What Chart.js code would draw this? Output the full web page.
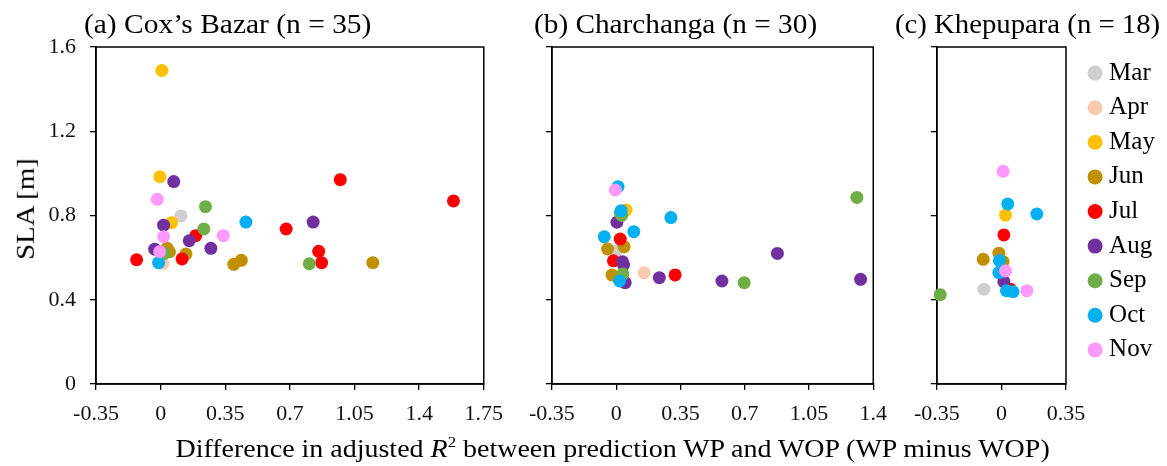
<!DOCTYPE html>
<html>
<head>
<meta charset="utf-8">
<script src="https://cdn.jsdelivr.net/npm/chart.js@4.4.1/dist/chart.umd.min.js"></script>
<style>
  body { margin: 0; background: #fff; }
  #wrap { position: relative; width: 1167px; height: 466px; overflow: hidden; background: #fff;
          font-family: 'Liberation Serif', 'Times New Roman', serif; color: #000; }
  canvas { position: absolute; top: 0; }
  .txt { position: absolute; white-space: nowrap; line-height: 1; transform-origin: center center; }
  .txt sup { font-size: 0.6em; line-height: 0; vertical-align: 0.65em; }
</style>
</head>
<body>
<div id="wrap">
  <canvas id="c1" width="514" height="466" style="left:0px"></canvas>
  <canvas id="c2" width="380" height="466" style="left:518px"></canvas>
  <canvas id="c3" width="264" height="466" style="left:903px"></canvas>

  <div class="txt" id="t1" style="font-size:27px">(a) Cox’s Bazar (n = 35)</div>
  <div class="txt" id="t2" style="font-size:27px">(b) Charchanga (n = 30)</div>
  <div class="txt" id="t3" style="font-size:27px">(c) Khepupara (n = 18)</div>
  <div class="txt" id="ylab" style="font-size:26px">SLA [m]</div>
  <div class="txt" id="xlab" style="font-size:25px">Difference in adjusted <i>R</i><sup>2</sup> between prediction WP and WOP (WP minus WOP)</div>
</div>

<script>
// meses y colores (como en la figura original de Excel)
const months = ['Mar', 'Apr', 'May', 'Jun', 'Jul', 'Aug', 'Sep', 'Oct', 'Nov'];
const monthColors = ['#D0CECE', '#F8CBAD', '#FFC000', '#BF9000', '#FF0000', '#7030A0', '#70AD47', '#00B0F0', '#FF99FF'];

// ticks
const slaTicks = [0, 0.4, 0.8, 1.2, 1.6];
const coxTicks = [-0.35, 0, 0.35, 0.7, 1.05, 1.4, 1.75];
const charTicks = [-0.35, 0, 0.35, 0.7, 1.05, 1.4];
const khepTicks = [-0.35, 0, 0.35];

// (a) Cox's Bazar
const coxMonth = ['May','May','Aug','Jul','Jul','Oct','Aug','Jul','Nov','Aug','Jul','Jul','Jun','Jun','Sep','Jul','Jun',
                  'Nov','Sep','Mar','May','Aug','Nov','Sep','Jul','Aug','Aug','Nov','Jun','Jun','Jul','Oct','Apr','Jun','Sep'];
const coxDiff  = [0.007,-0.004,0.071,0.973,1.586,0.462,0.826,0.680,0.339,0.272,0.856,-0.130,0.437,0.396,0.805,0.872,1.149,
                  -0.018,0.243,0.110,0.059,0.016,0.016,0.234,0.190,0.155,-0.032,-0.005,0.048,0.137,0.116,-0.011,0.012,0.035,0.020];
const coxSla   = [1.489,0.984,0.961,0.970,0.869,0.769,0.769,0.736,0.704,0.644,0.630,0.590,0.587,0.568,0.571,0.576,0.576,
                  0.877,0.842,0.798,0.766,0.754,0.699,0.736,0.704,0.680,0.640,0.628,0.628,0.617,0.594,0.576,0.573,0.645,0.620];

// (b) Charchanga
const charMonth = ['Oct','Nov','May','Sep','Oct','Aug','Oct','Jul','Oct','Jun','Mar','Jun','Jul','Aug','Jun','Sep','Aug','Oct',
                   'Apr','Oct','Sep','Aug','Aug','Jul','Aug','Sep','Aug','Jun','Sep','Aug'];
const charDiff  = [0.010,-0.005,0.054,0.022,0.027,0.004,-0.065,0.022,0.096,-0.047,0.000,0.043,-0.015,0.040,-0.023,0.036,0.049,0.018,
                   0.152,0.298,1.311,0.878,0.235,0.321,0.576,0.697,1.331,0.030,0.030,0.035];
const charSla   = [0.937,0.921,0.826,0.813,0.823,0.768,0.699,0.688,0.723,0.641,0.632,0.652,0.585,0.565,0.518,0.522,0.481,0.489,
                   0.528,0.790,0.886,0.620,0.505,0.518,0.489,0.481,0.497,0.515,0.800,0.580];

// (c) Khepupara
const khepMonth = ['Nov','Oct','May','Oct','Jul','Jun','Jun','Jun','Oct','Oct','Nov','Aug','Mar','Oct','Oct','Jul','Nov','Sep'];
const khepDiff  = [0.009,0.034,0.022,0.192,0.013,-0.099,-0.014,0.009,-0.011,-0.014,0.022,0.013,-0.095,0.027,0.063,0.048,0.138,-0.332];
const khepSla   = [1.010,0.855,0.802,0.807,0.708,0.592,0.621,0.581,0.586,0.529,0.537,0.486,0.450,0.443,0.438,0.450,0.443,0.424];

const serif = "'Liberation Serif', 'Times New Roman', serif";

// agrupa los puntos por mes, un dataset por mes
function buildSets(monthArr, diffArr, slaArr) {
  return months.map((m, i) => ({
    label: m,
    data: monthArr.map((mm, k) => mm === m ? { x: diffArr[k], y: slaArr[k] } : null).filter(p => p),
    backgroundColor: monthColors[i],
    borderColor: monthColors[i],
    borderWidth: 0,
    pointRadius: 6.5,
    pointHoverRadius: 6.5,
    order: months.length - i,   // meses posteriores encima
    clip: false
  }));
}

// marco negro alrededor del area
const boxFrame = {
  id: 'boxFrame',
  beforeDatasetsDraw(chart) {
    const { ctx, chartArea: a } = chart;
    ctx.save();
    ctx.strokeStyle = '#000';
    ctx.lineWidth = 1.5;
    ctx.strokeRect(a.left, a.top, a.right - a.left, a.bottom - a.top);
    ctx.restore();
  }
};

// leyenda con ancho fijo y desplazada a la derecha
const legendWidth = 101, legendDx = 18, legendDy = 4;
const legendFix = {
  id: 'legendFix',
  beforeLayout(chart) {
    const l = chart.legend;
    if (l && !l._patched) {
      const orig = l.fit.bind(l);
      l.fit = function () { orig(); this.width = legendWidth; };
      l._patched = true;
    }
  },
  afterLayout(chart) {
    const l = chart.legend;
    if (!l) return;
    l.left += legendDx; l.right += legendDx;
    l.top += legendDy; l.bottom += legendDy;
  }
};

function makeChart(id, sets, xTicks, cfg) {
  return new Chart(document.getElementById(id), {
    type: 'scatter',
    data: { datasets: sets },
    options: {
      responsive: false,
      animation: false,
      events: [],
      layout: { padding: cfg.padding },
      plugins: {
        legend: cfg.legend || { display: false },
        tooltip: { enabled: false }
      },
      scales: {
        x: {
          type: 'linear',
          min: xTicks[0],
          max: xTicks[xTicks.length - 1],
          afterBuildTicks: s => { s.ticks = xTicks.map(v => ({ value: v })); },
          afterFit: s => { s.height = 40; },
          ticks: {
            autoSkip: false, maxRotation: 0, padding: 11,
            color: '#111', font: { family: serif, size: 22 },
            callback: v => String(v)
          },
          grid: { drawOnChartArea: false, drawTicks: true, tickLength: 6, color: '#000', lineWidth: 1.3 },
          border: { display: true, color: '#000', width: 1.5 }
        },
        y: {
          type: 'linear',
          min: 0,
          max: 1.6,
          afterBuildTicks: s => { s.ticks = slaTicks.map(v => ({ value: v })); },
          afterFit: s => { s.width = cfg.yWidth; },
          ticks: {
            display: cfg.yLabels, padding: 14,
            color: '#111', font: { family: serif, size: 22 },
            callback: v => String(v)
          },
          grid: { drawOnChartArea: false, drawTicks: true, tickLength: 6, color: '#000', lineWidth: 1.3 },
          border: { display: true, color: '#000', width: 1.5 }
        }
      }
    },
    plugins: [boxFrame, legendFix]
  });
}

makeChart('c1', buildSets(coxMonth, coxDiff, coxSla), coxTicks,
  { padding: { left: 0, right: 24, top: 47, bottom: 42 }, yWidth: 96, yLabels: true });

makeChart('c2', buildSets(charMonth, charDiff, charSla), charTicks,
  { padding: { left: 9, right: 24, top: 47, bottom: 42 }, yWidth: 20, yLabels: false });

makeChart('c3', buildSets(khepMonth, khepDiff, khepSla), khepTicks, {
  padding: { left: 9, right: 0, top: 47, bottom: 42 }, yWidth: 20, yLabels: false,
  legend: {
    display: true,
    position: 'right',
    align: 'start',
    labels: {
      usePointStyle: true, boxWidth: 3, boxHeight: 10.6, padding: 9.6,
      color: '#000', font: { family: serif, size: 25 },
      sort: (a, b) => a.datasetIndex - b.datasetIndex
    }
  }
});

// textos html: centrado y ancho como en la figura
function placeText(id, cx, cy, w, rotate) {
  const el = document.getElementById(id);
  const ow = el.offsetWidth, oh = el.offsetHeight;
  el.style.left = (cx - ow / 2) + 'px';
  el.style.top = (cy - oh / 2) + 'px';
  el.style.transform = (rotate ? 'rotate(-90deg) ' : '') + 'scaleX(' + (w / ow) + ')';
}
placeText('t1', 227, 24, 287);
placeText('t2', 675, 24, 283);
placeText('t3', 1027, 24, 265);
placeText('ylab', 26, 209, 102, true);
placeText('xlab', 612, 448, 874);
</script>
</body>
</html>
